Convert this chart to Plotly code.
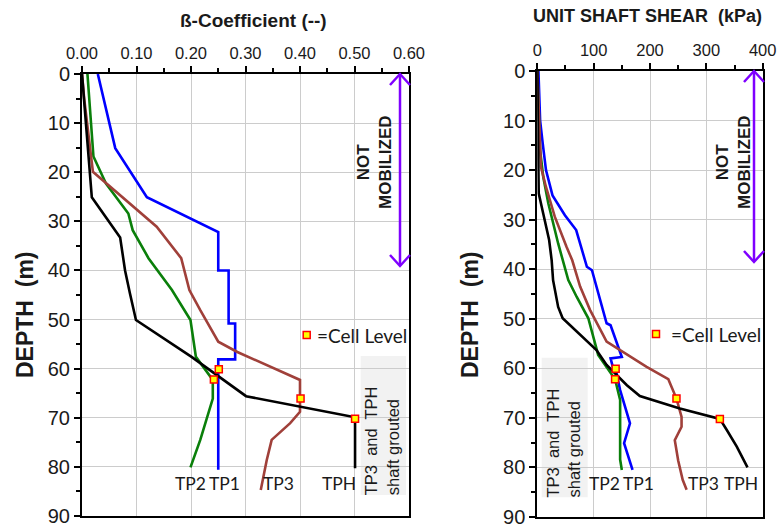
import plotly.graph_objects as go

W, H = 778, 529

# ---------------- data ----------------
# Left panel: beta coefficient vs depth
tp1_beta_depth = [0, 15.1, 25.1, 32.2, 40, 40, 50.8, 50.8, 58.1, 58.1, 80.6]
tp1_beta = [0.029, 0.061, 0.119, 0.250, 0.250, 0.269, 0.269, 0.281, 0.281, 0.250, 0.250]

tp2_beta_depth = [0, 16.8, 22.3, 28.4, 31.8, 37.5, 44, 50.1, 57.6, 61.5, 62.3, 66.1, 74.5, 80.1]
tp2_beta = [0.010, 0.021, 0.044, 0.085, 0.093, 0.122, 0.165, 0.199, 0.209, 0.235, 0.240, 0.240, 0.217, 0.199]

tp3_beta_depth = [0, 5, 19.9, 22.9, 31.1, 37.5, 44, 48.1, 54.5, 56.6, 62.3, 68.8, 71.1, 74.5, 78.6, 84.7]
tp3_beta = [0.0, 0.004, 0.020, 0.051, 0.137, 0.182, 0.197, 0.217, 0.250, 0.285, 0.400, 0.400, 0.382, 0.348, 0.339, 0.328]

tph_beta_depth = [0, 15.1, 25.1, 33.3, 40, 44.7, 50.1, 57.6, 64, 65.6, 69.9, 80.3]
tph_beta = [0, 0.010, 0.018, 0.070, 0.079, 0.088, 0.099, 0.201, 0.281, 0.301, 0.501, 0.501]

cell_depth = [60.1, 62.2, 66.1, 70.2]
cell_beta = [0.251, 0.242, 0.401, 0.501]

# Right panel: unit shaft shear (kPa) vs depth
tp1_kpa_depth = [0, 10, 14.6, 20, 25.1, 29.1, 32.1, 39.5, 40.2, 42.2, 45.6, 50.9, 51.3, 55, 57.7, 58, 59.7, 60.1, 64.4, 71.1, 75.1, 80.5]
tp1_kpa = [2, 5, 9.6, 15.4, 27, 49, 69, 88, 97, 102, 111, 123, 130, 141, 150, 130, 134, 139, 147, 164.5, 154, 169]

tp2_kpa_depth = [0, 16, 21.4, 26.7, 34.8, 38.2, 42.2, 45.6, 49.9, 57.3, 61.7, 62.2, 66.4, 78.4, 80.5]
tp2_kpa = [0, 5, 10.6, 19.5, 37, 45, 55, 70, 90.5, 108, 135, 138, 147, 147, 150]

tp3_kpa_depth = [0, 12.6, 19.4, 23.4, 29.4, 35.5, 38.2, 43.5, 48.2, 54.6, 56.3, 59.7, 62.2, 64.4, 66.1, 69.8, 71.8, 74.5, 78.6, 82.5, 84.5]
tp3_kpa = [0, 3.5, 6.5, 15.4, 31, 52, 62, 76, 93.5, 123, 147, 194, 232.5, 241, 247, 256, 256, 244, 250, 258, 265]

tph_kpa_depth = [0, 24.7, 28.8, 34.1, 38.2, 42.2, 47.6, 49.9, 56.3, 59.3, 63.4, 65.6, 68.1, 70.2, 72.4, 75.8, 80]
tph_kpa = [0, 2.5, 10.6, 21, 25.5, 28, 37, 45, 105, 123, 159, 182, 253, 324, 336, 354, 373]

cell_kpa = [139, 138, 247, 324]

series_names = ["TP1", "TP2", "TP3", "TPH"]
series_colors = {"TP1": "#0000FF", "TP2": "#0A7F0A", "TP3": "#A0403A", "TPH": "#000000"}

beta_ticks = [0.0, 0.1, 0.2, 0.3, 0.4, 0.5, 0.6]
kpa_ticks = [0, 100, 200, 300, 400]
depth_ticks = list(range(0, 91, 10))

# ---------------- layout helpers ----------------
L = dict(x0=82, x1=409, y0=74, y1=516)
R = dict(x0=537.3, x1=762.7, y0=71, y1=517)


def px(x):
    return x / W


def py(y):
    return 1 - y / H


fig = go.Figure()

left_series = [
    ("TP1", tp1_beta, tp1_beta_depth),
    ("TP2", tp2_beta, tp2_beta_depth),
    ("TP3", tp3_beta, tp3_beta_depth),
    ("TPH", tph_beta, tph_beta_depth),
]
right_series = [
    ("TP1", tp1_kpa, tp1_kpa_depth),
    ("TP2", tp2_kpa, tp2_kpa_depth),
    ("TP3", tp3_kpa, tp3_kpa_depth),
    ("TPH", tph_kpa, tph_kpa_depth),
]

for name, xs, ys in left_series:
    fig.add_trace(go.Scatter(x=xs, y=ys, mode="lines", name=name,
                             line=dict(color=series_colors[name], width=2.6),
                             xaxis="x", yaxis="y", showlegend=False))
for name, xs, ys in right_series:
    fig.add_trace(go.Scatter(x=xs, y=ys, mode="lines", name=name,
                             line=dict(color=series_colors[name], width=2.6),
                             xaxis="x2", yaxis="y2", showlegend=False))

marker_style = dict(symbol="square", size=7, color="#FFFF00", line=dict(color="#FF0000", width=1.5))
fig.add_trace(go.Scatter(x=cell_beta, y=cell_depth, mode="markers", marker=marker_style,
                         xaxis="x", yaxis="y", showlegend=False))
fig.add_trace(go.Scatter(x=cell_kpa, y=cell_depth, mode="markers", marker=marker_style,
                         xaxis="x2", yaxis="y2", showlegend=False))

tick_font = dict(family="Liberation Sans, Arial", size=16.5, color="#1a1a1a")
ytick_font = dict(family="Liberation Sans, Arial", size=20, color="#1a1a1a")

common_x = dict(side="top", showline=True, linecolor="black", linewidth=2, mirror=True,
                ticks="outside", ticklen=6, tickwidth=1.5, tickcolor="black", automargin=False,
                showgrid=True, gridcolor="#CCCCCC", gridwidth=1, zeroline=False,
                tickfont=tick_font)
common_y = dict(autorange=False, showline=True, linecolor="black", linewidth=2, mirror=True,
                ticks="outside", ticklen=6, tickwidth=1.5, tickcolor="black", automargin=False,
                showgrid=True, gridcolor="#CCCCCC", gridwidth=1, zeroline=False,
                tickfont=ytick_font, tickvals=depth_ticks,
                minor=dict(dtick=5, ticks="outside", ticklen=4, tickwidth=1.5, tickcolor="black", showgrid=False))

fig.update_layout(
    width=W, height=H,
    margin=dict(l=0, r=0, t=0, b=0, autoexpand=False),
    paper_bgcolor="white", plot_bgcolor="white",
    xaxis=dict(common_x, domain=[px(L["x0"]), px(L["x1"])], range=[0, 0.6],
               tickvals=beta_ticks, ticktext=[f"{v:.2f}" for v in beta_ticks], anchor="y",
               minor=dict(dtick=0.05, ticks="outside", ticklen=4, tickwidth=1.5, tickcolor="black", showgrid=False)),
    yaxis=dict(common_y, domain=[py(L["y1"]), py(L["y0"])], range=[90, 0], anchor="x"),
    xaxis2=dict(common_x, domain=[px(R["x0"]), px(R["x1"])], range=[0, 400],
                tickvals=kpa_ticks, anchor="y2",
                minor=dict(dtick=50, ticks="outside", ticklen=4, tickwidth=1.5, tickcolor="black", showgrid=False)),
    yaxis2=dict(common_y, domain=[py(R["y1"]), py(R["y0"])], range=[90, 0], anchor="x2"),
)

ann = []
shapes = []


def note(text, x, y, size, family="Liberation Sans, Arial", xanchor="center", yanchor="middle", **kw):
    ann.append(dict(text=text, x=px(x), y=py(y), xref="paper", yref="paper",
                    xanchor=xanchor, yanchor=yanchor, showarrow=False,
                    font=dict(family=family, size=size, color="#1a1a1a"), **kw))


# Titles
note("<b>ß-Coefficient (--)</b>", 253, 20, 19)
note("<b>UNIT SHAFT SHEAR  (kPa)</b>", 647, 16, 18)
for xc in (25, 470):
    note("<b>DEPTH  (m)</b>", xc, 315, 23, textangle=-90)

# NOT MOBILIZED
for xc in (374, 733):
    note("<b>NOT<br>MOBILIZED</b>", xc, 162, 17, textangle=-90, align="center")

# Purple double arrows
purple = "#7F00FF"
for ax_x, top, bot in ((400, L["y0"], 266), (754, R["y0"], 262)):
    shapes.append(dict(type="line", xref="paper", yref="paper", x0=px(ax_x), x1=px(ax_x),
                       y0=py(top + 1), y1=py(bot - 1), line=dict(color=purple, width=2.5)))
    for tip, d in ((top, 1), (bot, -1)):
        path = (f"M {px(ax_x - 10)} {py(tip + d * 11)} L {px(ax_x)} {py(tip)} "
                f"L {px(ax_x + 10)} {py(tip + d * 11)}")
        shapes.append(dict(type="path", xref="paper", yref="paper", path=path,
                           line=dict(color=purple, width=2.5)))

# Cell level legend
for mx, my, tx in ((306.7, 335, 315), (656, 334, 669)):
    shapes.append(dict(type="rect", xref="paper", yref="paper",
                       x0=px(mx - 3.5), x1=px(mx + 3.5), y0=py(my + 3.5), y1=py(my - 3.5),
                       fillcolor="#FFFF00", line=dict(color="#FF0000", width=1.5)))
    note("=Cell Level", tx, my, 19, family="Lato, Carlito, Calibri", xanchor="left")

# Grouted boxes
for bx0, bx1, by0, by1, tcx, tcy in ((360.7, 406, 356, 495, 381.3, 441),
                                     (541.7, 587.7, 357.7, 497.3, 562.5, 443)):
    shapes.append(dict(type="rect", xref="paper", yref="paper", layer="below",
                       x0=px(bx0), x1=px(bx1), y0=py(by1), y1=py(by0),
                       fillcolor="#F2F2F2", line=dict(width=0)))
    note("TP3  and  TPH<br>shaft grouted", tcx, tcy, 16.5,
         textangle=-90, align="left")

# Series labels
label_pos = {
    "left": {"TP2": 190, "TP1": 224, "TP3": 278.5, "TPH": 339},
    "right": {"TP2": 604, "TP1": 638, "TP3": 703, "TPH": 741},
}
for side in label_pos:
    for name, xc in label_pos[side].items():
        note(name, xc, 483, 17.5, family="Lato, Carlito, Calibri")

fig.update_layout(annotations=ann, shapes=shapes)

fig.write_html("out.html")
